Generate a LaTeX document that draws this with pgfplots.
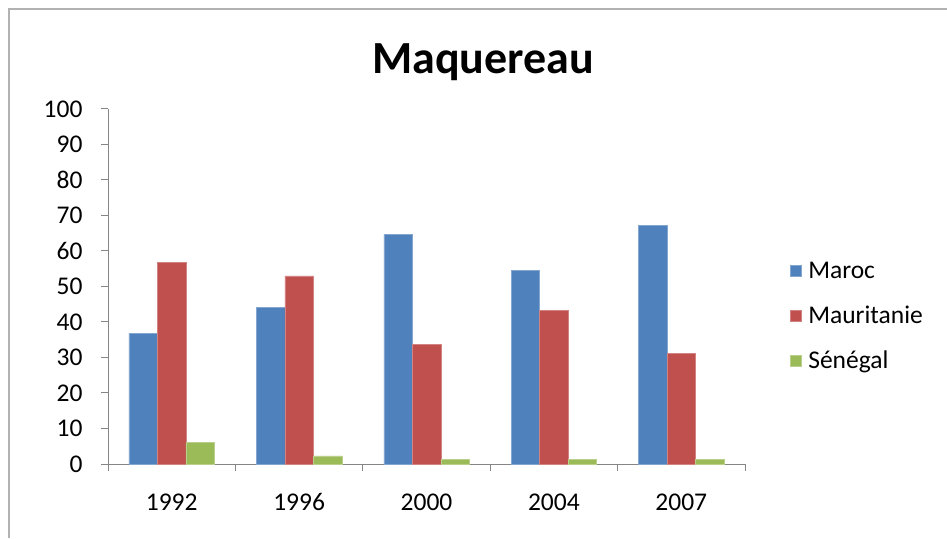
\documentclass[border=0pt]{standalone}
\usepackage{fontspec}
\setmainfont{Carlito}
\usepackage{pgfplots}
\pgfplotsset{compat=1.18}
\definecolor{maroc}{HTML}{4F81BD}
\definecolor{maur}{HTML}{C0504D}
\definecolor{sen}{HTML}{9BBB59}
\definecolor{axgray}{HTML}{868686}
\begin{document}
\begin{tikzpicture}[x=1pt,y=1pt]
\useasboundingbox (0,0) rectangle (947,538);
\draw[color=gray!60, line width=1.5pt] (9,0) -- (9,529) -- (947,529);
\node[anchor=base, font=\fontsize{46}{50}\selectfont\bfseries] at (483,464) {Maquereau};
\begin{axis}[
  at={(108pt,74pt)}, anchor=south west,
  scale only axis, width=637pt, height=355pt,
  ymin=0, ymax=100, xmin=-0.5, xmax=4.5,
  ybar=0pt, bar width=28.5pt,
  axis lines=left,
  axis line style={-, draw=axgray, line width=1pt},
  ytick={0,10,...,100},
  xtick={-0.5,0.5,1.5,2.5,3.5,4.5},
  xticklabels={1992,1996,2000,2004,2007},
  x tick label as interval,
  tick align=outside, major tick length=7pt,
  tick style={draw=axgray, line width=1pt},
  ticklabel style={font=\fontsize{25.5}{30}\selectfont},
  yticklabel style={xshift=-15pt},
  xticklabel style={yshift=-19pt},
  /pgf/number format/assume math mode=true,
  legend style={at={(1.07,0.417)}, anchor=west, draw=none, fill=none,
    font=\fontsize{25.5}{30}\selectfont, row sep=22pt, inner sep=0pt,
    /tikz/every odd column/.append style={column sep=5pt}},
  legend cell align=left,
  legend image code/.code={\fill[#1] (0pt,-5.5pt) rectangle (11pt,5.5pt);},
  clip=false,
]
\addplot[fill=maroc, draw=maroc!70!white, line width=0.5pt] coordinates {(0,36.8) (1,44.1) (2,64.6) (3,54.6) (4,67.2)};
\addplot[fill=maur, draw=maur!70!white, line width=0.5pt] coordinates {(0,56.7) (1,53.0) (2,33.7) (3,43.2) (4,31.1)};
\addplot[fill=sen, draw=sen!70!white, line width=0.5pt] coordinates {(0,6.0) (1,2.3) (2,1.3) (3,1.3) (4,1.3)};
\legend{Maroc,Mauritanie,Sénégal}
\end{axis}
\end{tikzpicture}
\end{document}
